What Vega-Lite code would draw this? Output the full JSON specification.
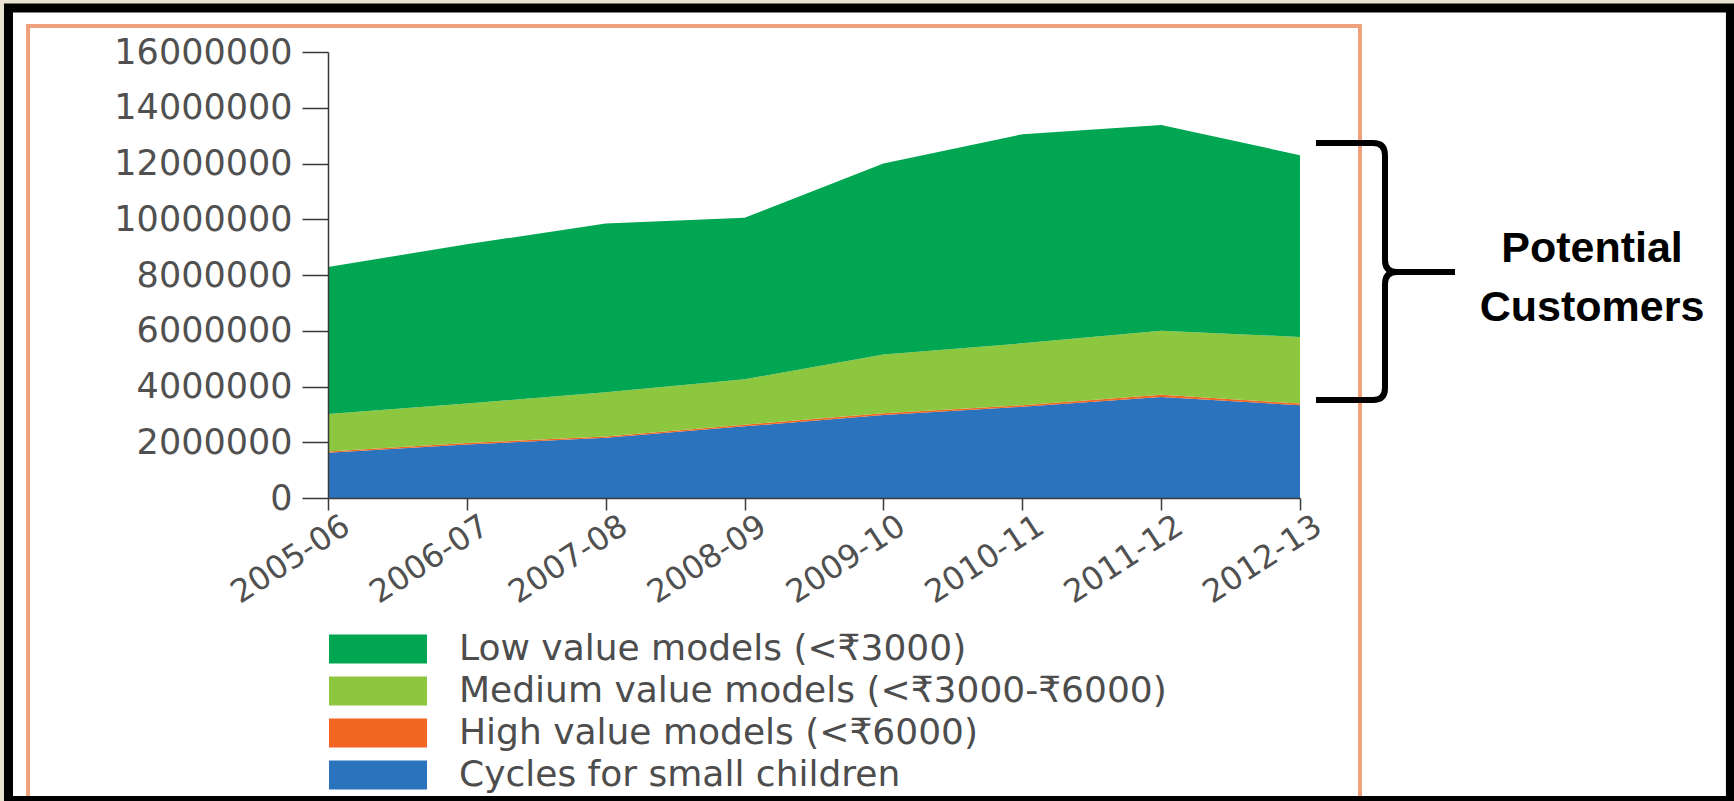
{
  "$schema": "https://vega.github.io/schema/vega-lite/v6.json",
  "autosize": {"type": "none"},
  "width": 972,
  "height": 446,
  "padding": {"left": 328, "top": 52, "right": 434, "bottom": 303},
  "background": "#e8e2d0",
  "config": {
    "view": {"stroke": null},
    "axis": {"grid": false, "title": null, "labelFont": "DejaVu Sans", "labelFontSize": 35, "labelColor": "#505050", "domainColor": "#3a3a3a", "tickColor": "#3a3a3a", "domainWidth": 1.5, "tickWidth": 1.5},
    "legend": {"orient": "none", "legendX": 32, "legendY": 579, "title": null, "padding": 0, "symbolType": "M-3.38,-1H3.38V1H-3.38Z", "symbolSize": 841, "symbolStrokeWidth": 0, "symbolOpacity": 1, "labelFont": "DejaVu Sans", "labelFontSize": 36, "labelColor": "#4d4d4d", "labelOffset": 63, "rowPadding": 6, "labelLimit": 1200}
  },
  "layer": [
    {
      "data": {"values": [{}]},
      "mark": {"type": "rect", "fill": "white", "strokeWidth": 0},
      "encoding": {
        "x": {"datum": -2.301, "type": "quantitative"},
        "x2": {"datum": 10.1},
        "y": {"datum": 17578000, "type": "quantitative"},
        "y2": {"datum": -10852000}
      }
    },
    {
      "data": {"values": [{}]},
      "mark": {"type": "rect", "filled": false, "color": "#eda27c", "strokeWidth": 4},
      "encoding": {
        "x": {"datum": -2.16, "type": "quantitative"},
        "x2": {"datum": 7.432},
        "y": {"datum": 16933000, "type": "quantitative"},
        "y2": {"datum": -11500000}
      }
    },
    {
      "data": {"values": [
        {"year": "2005-06", "i": 0, "series": "Cycles for small children", "k": 0, "v": 1620000},
        {"year": "2006-07", "i": 1, "series": "Cycles for small children", "k": 0, "v": 1920000},
        {"year": "2007-08", "i": 2, "series": "Cycles for small children", "k": 0, "v": 2160000},
        {"year": "2008-09", "i": 3, "series": "Cycles for small children", "k": 0, "v": 2570000},
        {"year": "2009-10", "i": 4, "series": "Cycles for small children", "k": 0, "v": 2980000},
        {"year": "2010-11", "i": 5, "series": "Cycles for small children", "k": 0, "v": 3270000},
        {"year": "2011-12", "i": 6, "series": "Cycles for small children", "k": 0, "v": 3620000},
        {"year": "2012-13", "i": 7, "series": "Cycles for small children", "k": 0, "v": 3330000},
        {"year": "2005-06", "i": 0, "series": "High value models (<₹6000)", "k": 1, "v": 50000},
        {"year": "2006-07", "i": 1, "series": "High value models (<₹6000)", "k": 1, "v": 50000},
        {"year": "2007-08", "i": 2, "series": "High value models (<₹6000)", "k": 1, "v": 50000},
        {"year": "2008-09", "i": 3, "series": "High value models (<₹6000)", "k": 1, "v": 60000},
        {"year": "2009-10", "i": 4, "series": "High value models (<₹6000)", "k": 1, "v": 60000},
        {"year": "2010-11", "i": 5, "series": "High value models (<₹6000)", "k": 1, "v": 60000},
        {"year": "2011-12", "i": 6, "series": "High value models (<₹6000)", "k": 1, "v": 80000},
        {"year": "2012-13", "i": 7, "series": "High value models (<₹6000)", "k": 1, "v": 60000},
        {"year": "2005-06", "i": 0, "series": "Medium value models (<₹3000-₹6000)", "k": 2, "v": 1340000},
        {"year": "2006-07", "i": 1, "series": "Medium value models (<₹3000-₹6000)", "k": 2, "v": 1420000},
        {"year": "2007-08", "i": 2, "series": "Medium value models (<₹3000-₹6000)", "k": 2, "v": 1580000},
        {"year": "2008-09", "i": 3, "series": "Medium value models (<₹3000-₹6000)", "k": 2, "v": 1630000},
        {"year": "2009-10", "i": 4, "series": "Medium value models (<₹3000-₹6000)", "k": 2, "v": 2110000},
        {"year": "2010-11", "i": 5, "series": "Medium value models (<₹3000-₹6000)", "k": 2, "v": 2220000},
        {"year": "2011-12", "i": 6, "series": "Medium value models (<₹3000-₹6000)", "k": 2, "v": 2300000},
        {"year": "2012-13", "i": 7, "series": "Medium value models (<₹3000-₹6000)", "k": 2, "v": 2390000},
        {"year": "2005-06", "i": 0, "series": "Low value models (<₹3000)", "k": 3, "v": 5280000},
        {"year": "2006-07", "i": 1, "series": "Low value models (<₹3000)", "k": 3, "v": 5710000},
        {"year": "2007-08", "i": 2, "series": "Low value models (<₹3000)", "k": 3, "v": 6060000},
        {"year": "2008-09", "i": 3, "series": "Low value models (<₹3000)", "k": 3, "v": 5790000},
        {"year": "2009-10", "i": 4, "series": "Low value models (<₹3000)", "k": 3, "v": 6850000},
        {"year": "2010-11", "i": 5, "series": "Low value models (<₹3000)", "k": 3, "v": 7500000},
        {"year": "2011-12", "i": 6, "series": "Low value models (<₹3000)", "k": 3, "v": 7380000},
        {"year": "2012-13", "i": 7, "series": "Low value models (<₹3000)", "k": 3, "v": 6520000}
      ]},
      "mark": {"type": "area", "interpolate": "linear", "opacity": 1},
      "encoding": {
        "x": {
          "field": "i", "type": "quantitative",
          "scale": {"domain": [0, 7], "nice": false, "zero": false},
          "axis": {
            "zindex": 1,
            "values": [0, 1, 2, 3, 4, 5, 6, 7],
            "labelExpr": "['2005-06','2006-07','2007-08','2008-09','2009-10','2010-11','2011-12','2012-13'][datum.value]",
            "labelAngle": -33, "labelFontSize": 32, "tickSize": 12, "labelPadding": 0, "labelOffset": 10,
            "labelOverlap": false, "labelFlush": false, "labelBound": false
          }
        },
        "y": {
          "field": "v", "type": "quantitative", "stack": "zero",
          "scale": {"domain": [0, 16000000], "nice": false},
          "axis": {"zindex": 1, "values": [0, 2000000, 4000000, 6000000, 8000000, 10000000, 12000000, 14000000, 16000000], "format": "d", "tickSize": 26, "labelPadding": 10}
        },
        "color": {
          "field": "series", "type": "nominal",
          "scale": {
            "domain": ["Low value models (<₹3000)", "Medium value models (<₹3000-₹6000)", "High value models (<₹6000)", "Cycles for small children"],
            "range": ["#00a651", "#8dc63f", "#f26522", "#2b73bd"]
          }
        },
        "order": {"field": "k", "type": "quantitative"}
      }
    },
    {
      "data": {"values": [{}]},
      "mark": {"type": "point", "shape": "M-69,-129L-12,-129Q0,-129,0,-117L0,-12Q0,0,12,0L70,0M12,0Q0,0,0,12L0,116Q0,128,-12,128L-69,128", "size": 4, "filled": false, "color": "black", "strokeWidth": 6, "opacity": 1},
      "encoding": {
        "x": {"datum": 7.612, "type": "quantitative"},
        "y": {"datum": 8108000, "type": "quantitative"}
      }
    },
    {
      "data": {"values": [{}]},
      "mark": {"type": "text", "text": ["Potential", "Customers"], "font": "Liberation Sans", "fontWeight": "bold", "fontSize": 43, "align": "center", "baseline": "alphabetic", "lineHeight": 59, "color": "black"},
      "encoding": {
        "x": {"datum": 9.103, "type": "quantitative"},
        "y": {"datum": 8466000, "type": "quantitative"}
      }
    },
    {
      "data": {"values": [{}]},
      "mark": {"type": "rect", "filled": false, "color": "black", "strokeWidth": 9},
      "encoding": {
        "x": {"datum": -2.301, "type": "quantitative"},
        "x2": {"datum": 10.1},
        "y": {"datum": 17578000, "type": "quantitative"},
        "y2": {"datum": -10852000}
      }
    }
  ]
}
